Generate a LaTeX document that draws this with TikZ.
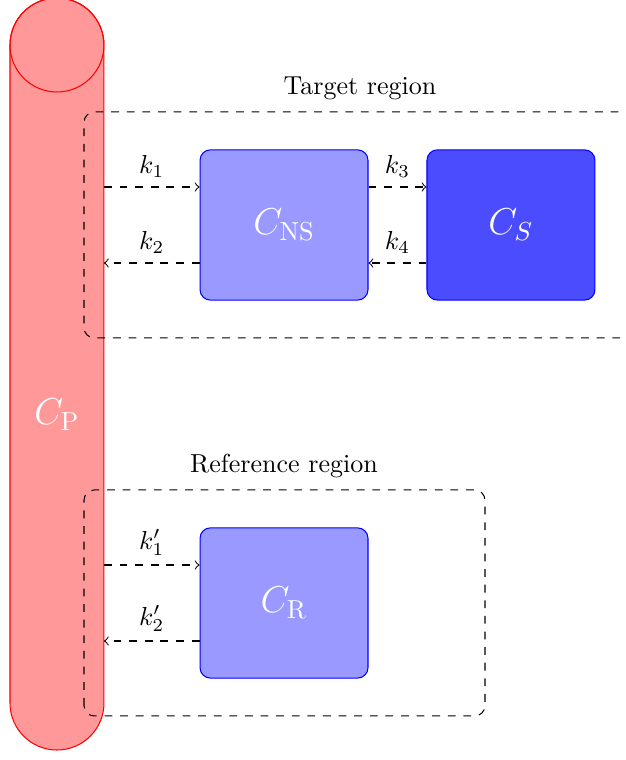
\documentclass[tikz,border=0pt]{standalone}
\usepackage{amsmath}
\usepackage{tikz}

\tikzset{
    pool/.style={draw=blue, rounded corners, minimum width=2.27cm, minimum height=2.03cm, text=white, font=\Large},
    region/.style={draw, dashed, rounded corners},
    rate/.style={draw, dashed, ->}
}

\begin{document}
\begin{tikzpicture}[scale=1]

    \useasboundingbox (0,0) rectangle (8.459,10.27);
    \pgfmathsetmacro{\R}{0.635}

    % plasma cylinder
    \path[draw=red, fill=red!40] (0.135,9.662) -- (0.135,0.770) arc (180:360:\R) -- (1.405,9.662) arc (0:180:\R) -- cycle;
    \path[draw=red] (0.77,9.662) circle (\R);
    \node[text=white, font=\Large] (cp) at (0.77,4.662) {$C_{\mathrm{P}}$};

    % regions
    \path[region] (9.2,8.757) -- (1.135,8.757) -- (1.135,5.703) -- (9.2,5.703);
    \node (target) at (4.865,9.081) {Target region};
    \path[region] (1.135,0.595) rectangle (6.554,3.649);
    \node (reference) at (3.838,3.973) {Reference region};

    % compartments
    \node[pool, fill=blue!40] (cns) at (3.838,7.230) {$C_{\mathrm{NS}}$};
    \node[pool, fill=blue!70] (cs) at (6.905,7.230) {$C_S$};
    \node[pool, fill=blue!40] (cr) at (3.838,2.122) {$C_{\mathrm{R}}$};

    % exchange rates
    \coordinate (p1) at (1.405,7.743);
    \coordinate (p2) at (1.405,6.716);
    \coordinate (p3) at (1.405,2.635);
    \coordinate (p4) at (1.405,1.608);
    \path[rate] (p1) -- (cns.west |- p1) node[midway, above] {$k_1$};
    \path[rate] (cns.west |- p2) -- (p2) node[midway, above] {$k_2$};
    \path[rate] (cns.east |- p1) -- (cs.west |- p1) node[midway, above] {$k_3$};
    \path[rate] (cs.west |- p2) -- (cns.east |- p2) node[midway, above] {$k_4$};
    \path[rate] (p3) -- (cr.west |- p3) node[midway, above] {$k_1'$};
    \path[rate] (cr.west |- p4) -- (p4) node[midway, above] {$k_2'$};

\end{tikzpicture}
\end{document}
